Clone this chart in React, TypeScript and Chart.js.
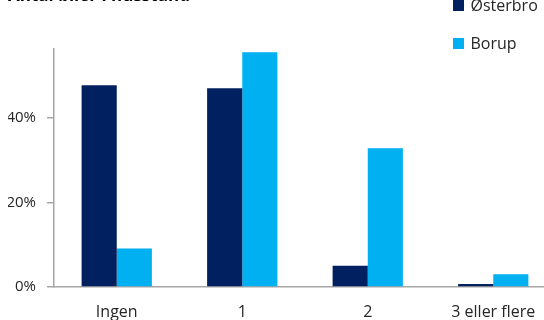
import React, { useEffect, useRef } from "react";
import { Chart, registerables } from "chart.js";

Chart.register(...registerables);

const title = "Antal biler i husstand";
const categories = ["Ingen", "1", "2", "3 eller flere"];
const seriesNames = ["Østerbro", "Borup"];
const osterbro = [0.477, 0.47, 0.05, 0.007];
const borup = [0.091, 0.555, 0.328, 0.03];
const colors = ["#002060", "#00B0F0"];
const yMax = 0.5625;
const yStep = 0.2;

const FONT = "'Open Sans', 'Noto Sans', sans-serif";

const sideLegend = {
  id: "sideLegend",
  afterDraw(chart: any, _args: any, opts: any) {
    const ctx = chart.ctx;
    ctx.save();
    chart.data.datasets.forEach((ds: any, i: number) => {
      const cy = opts.y + i * opts.gap;
      ctx.fillStyle = ds.backgroundColor;
      ctx.fillRect(opts.x, cy - opts.box / 2, opts.box, opts.box);
      ctx.fillStyle = opts.color;
      ctx.font = opts.font;
      ctx.textBaseline = "middle";
      ctx.textAlign = "left";
      ctx.fillText(ds.label, opts.x + opts.box + opts.textGap, cy + 1);
    });
    ctx.restore();
  },
};

export default function App() {
  const ref = useRef<HTMLCanvasElement | null>(null);

  useEffect(() => {
    if (!ref.current) return;
    const chart = new Chart(ref.current, {
      type: "bar",
      data: {
        labels: categories,
        datasets: [
          {
            label: seriesNames[0],
            data: osterbro,
            backgroundColor: colors[0],
            barPercentage: 1,
            categoryPercentage: 0.56,
          },
          {
            label: seriesNames[1],
            data: borup,
            backgroundColor: colors[1],
            barPercentage: 1,
            categoryPercentage: 0.56,
          },
        ],
      },
      plugins: [sideLegend],
      options: {
        responsive: false,
        animation: false,
        layout: { padding: { left: 8, right: 4, top: 0, bottom: 0 } },
        plugins: {
          legend: { display: false },
          tooltip: { enabled: false },
          title: {
            display: true,
            text: title,
            align: "start",
            color: "#000000",
            font: { family: FONT, size: 17, weight: "bold" },
            padding: { top: 6, bottom: 42.6 },
          },
          sideLegend: {
            x: 453,
            y: 25.5,
            gap: 38,
            box: 11,
            textGap: 6.5,
            color: "#262626",
            font: `16px ${FONT}`,
          },
        } as any,
        scales: {
          x: {
            grid: { display: false },
            border: { display: true, color: "#a6a6a6", width: 1.5 },
            ticks: {
              color: "#262626",
              font: { family: FONT, size: 16 },
              padding: 8,
              maxRotation: 0,
              autoSkip: false,
            },
            afterFit: (axis: any) => {
              axis.height = 33;
            },
          },
          y: {
            min: 0,
            max: yMax,
            grid: {
              display: true,
              drawOnChartArea: false,
              drawTicks: true,
              tickLength: 7,
              color: "#a6a6a6",
              lineWidth: 1.5,
            },
            border: { display: true, color: "#a6a6a6", width: 1.5 },
            ticks: {
              stepSize: yStep,
              includeBounds: false,
              color: "#262626",
              font: { family: FONT, size: 15 },
              padding: 11,
              callback: (v: any) => `${Math.round(Number(v) * 100)}%`,
            },
            afterFit: (axis: any) => {
              axis.width = 46;
            },
          },
        },
      },
    });
    return () => chart.destroy();
  }, []);

  return (
    <div
      style={{
        position: "fixed",
        left: 0,
        top: 0,
        width: 544,
        height: 320,
        overflow: "hidden",
        background: "#ffffff",
      }}
    >
      <canvas
        ref={ref}
        width={560}
        height={340}
        style={{ position: "absolute", left: 0, top: -20, width: 560, height: 340 }}
      />
    </div>
  );
}
